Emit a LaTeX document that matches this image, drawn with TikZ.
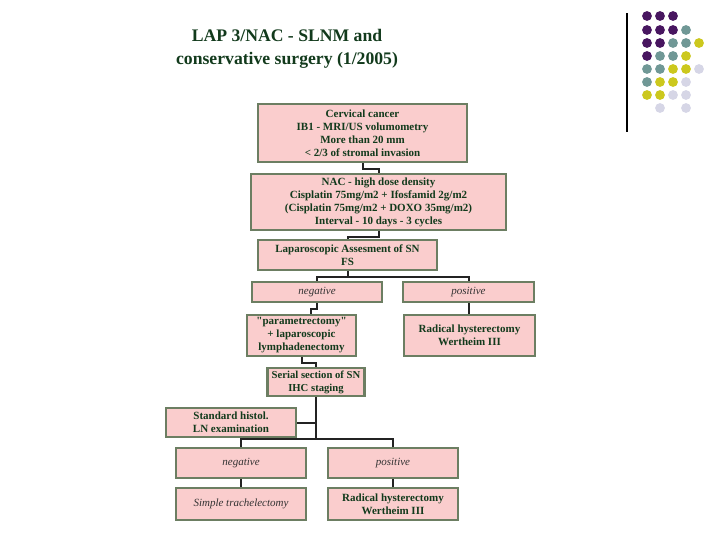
\documentclass[tikz,border=0pt]{standalone}
\usepackage{fontspec}
\setmainfont{Liberation Serif}
\newfontfamily\plainserif{Liberation Serif}
\usepackage{xcolor}

\definecolor{boxfill}{RGB}{250,205,205}
\definecolor{boxline}{RGB}{108,126,98}
\definecolor{txtgreen}{RGB}{18,58,28}
\definecolor{linkgray}{RGB}{35,35,35}
\definecolor{dotpurple}{RGB}{72,22,96}
\definecolor{dotteal}{RGB}{112,152,150}
\definecolor{dotyellow}{RGB}{204,200,30}
\definecolor{dotlilac}{RGB}{214,214,230}

\begin{document}
\begin{tikzpicture}[x=0.75pt,y=0.75pt,yscale=-1,xscale=1,
    stepbox/.style={draw=boxline, line width=2pt, fill=boxfill, inner sep=0pt, align=center, text=txtgreen, font=\fontsize{8.25}{9.75}\selectfont\bfseries},
    answerbox/.style={stepbox, text=black!80, font=\fontsize{8.25}{9.75}\selectfont\itshape},
    link/.style={draw=linkgray, line width=1.5pt}]
    %set diagram left start at 0, and has height of 540
    \useasboundingbox (0,0) rectangle (720,540);
    
    % Text Node
    \draw (287,49) node [text=txtgreen, font=\fontsize{13.25}{17.25}\selectfont\bfseries, align=center] (title) {LAP 3/NAC - SLNM and\\conservative surgery (1/2005)};
    
    %Straight Lines
    \draw [line width=1pt] (627,13) -- (627,132) ;
    %Shape: Circle
    \fill [dotpurple] (647,16) circle (4.9) (660,16) circle (4.9) (673,16) circle (4.9) ;
    \fill [dotpurple] (647,30) circle (4.9) (660,30) circle (4.9) (673,30) circle (4.9) ;
    \fill [dotpurple] (647,43) circle (4.9) (660,43) circle (4.9) ;
    \fill [dotpurple] (647,56) circle (4.9) ;
    %Shape: Circle
    \fill [dotteal] (686,30) circle (4.9) ;
    \fill [dotteal] (673,43) circle (4.9) (686,43) circle (4.9) ;
    \fill [dotteal] (660,56) circle (4.9) (673,56) circle (4.9) ;
    \fill [dotteal] (647,69) circle (4.9) (660,69) circle (4.9) ;
    \fill [dotteal] (647,82) circle (4.9) ;
    %Shape: Circle
    \fill [dotyellow] (699,43) circle (4.9) ;
    \fill [dotyellow] (686,56) circle (4.9) ;
    \fill [dotyellow] (673,69) circle (4.9) (686,69) circle (4.9) ;
    \fill [dotyellow] (660,82) circle (4.9) (673,82) circle (4.9) ;
    \fill [dotyellow] (647,95) circle (4.9) (660,95) circle (4.9) ;
    %Shape: Circle
    \fill [dotlilac] (699,69) circle (4.9) ;
    \fill [dotlilac] (686,82) circle (4.9) ;
    \fill [dotlilac] (673,95) circle (4.9) (686,95) circle (4.9) ;
    \fill [dotlilac] (660,108) circle (4.9) (686,108) circle (4.9) ;
    
    %Shape: Rectangle
    \draw (362.5,133) node [stepbox, minimum width=156.75pt, minimum height=43.5pt] (b1) {Cervical cancer\\IB1 - MRI/US volumometry\\More than 20 mm\\< 2/3 of stromal invasion};
    %Shape: Rectangle
    \draw (378.5,202) node [stepbox, minimum width=191.25pt, minimum height=42pt] (b2) {NAC - high dose density\\Cisplatin 75mg/m2 + Ifosfamid 2g/m2\\(Cisplatin 75mg/m2 + DOXO 35mg/m2)\\Interval - 10 days - 3 cycles};
    %Shape: Rectangle
    \draw (347.5,255) node [stepbox, minimum width=134.25pt, minimum height=22.5pt] (b3) {Laparoscopic Assesment of SN\\FS};
    %Shape: Rectangle
    \draw (317,292) node [answerbox, minimum width=97.5pt, minimum height=15pt] (neg1) {negative};
    %Shape: Rectangle
    \draw (468.5,292) node [answerbox, minimum width=98.25pt, minimum height=15pt] (pos1) {positive};
    %Shape: Rectangle
    \draw (301.5,335.5) node [stepbox, minimum width=81.75pt, minimum height=30.75pt] (par) {{\plainserif "}parametrectomy{\plainserif "}\\+ laparoscopic\\lymphadenectomy};
    %Shape: Rectangle
    \draw (469.5,335.5) node [stepbox, minimum width=98.25pt, minimum height=30.75pt] (rad1) {Radical hysterectomy\\Wertheim III};
    %Shape: Rectangle
    \draw (316,382) node [stepbox, minimum width=73pt, minimum height=21pt, font=\fontsize{8}{9.75}\selectfont\bfseries] (ser) {Serial section of SN\\IHC staging};
    %Shape: Rectangle
    \draw (231,422.5) node [stepbox, minimum width=97.5pt, minimum height=21.75pt] (std) {Standard histol.\\LN examination};
    %Shape: Rectangle
    \draw (241,463) node [answerbox, minimum width=97.5pt, minimum height=22.5pt] (neg2) {negative};
    %Shape: Rectangle
    \draw (393,463) node [answerbox, minimum width=97.5pt, minimum height=22.5pt] (pos2) {positive};
    %Shape: Rectangle
    \draw (241,504) node [answerbox, minimum width=97.5pt, minimum height=24pt] (simp) {Simple trachelectomy};
    %Shape: Rectangle
    \draw (393,504) node [stepbox, minimum width=97.5pt, minimum height=24pt] (rad2) {Radical hysterectomy\\Wertheim III};
    
    %Straight Lines
    \draw [link] (b1.south) -- ++(0,6) -| (b2.north) ;
    \draw [link] (b2.south) -- ++(0,6) -| (b3.north) ;
    \draw [link] (b3.south) -- ++(0,6) coordinate (fork1) ;
    \draw [link] (neg1.north) |- (fork1) -| (pos1.north) ;
    \draw [link] (neg1.south) -- ++(0,6) -| ([xshift=6.75pt]par.north) ;
    \draw [link] (pos1.south) -- (pos1.south |- rad1.north) ;
    \draw [link] (par.south) -- ++(0,6) -| (ser.north) ;
    \draw [link] (ser.south) -- ++(0,42) coordinate (fork2) ;
    \draw [link] (std.east) -- (std.east -| fork2) ;
    \draw [link] (neg2.north) |- (fork2) -| (pos2.north) ;
    \draw [link] (neg2.south) -- (simp.north) ;
    \draw [link] (pos2.south) -- (rad2.north) ;
    
\end{tikzpicture}
\end{document}
